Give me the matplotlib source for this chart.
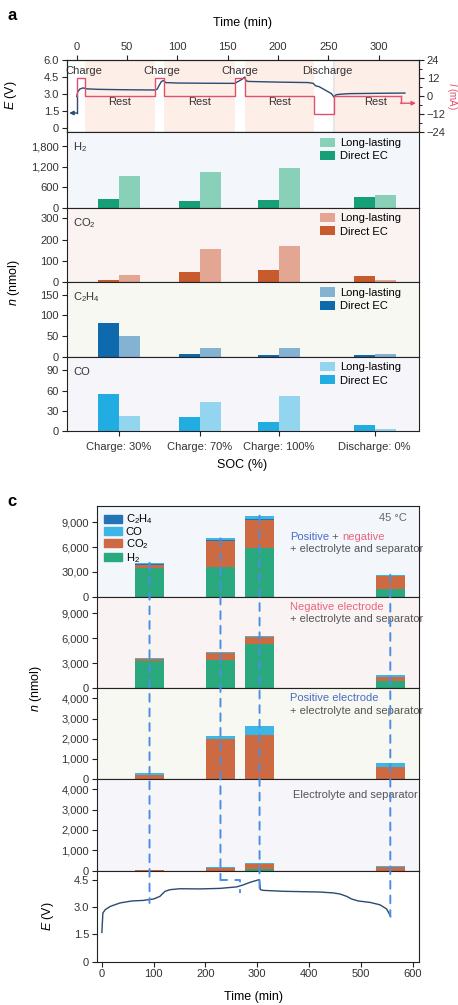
import matplotlib
matplotlib.use('Agg')
import matplotlib.pyplot as plt
from matplotlib.patches import ConnectionPatch, Patch
from matplotlib.ticker import FixedLocator

plt.rcParams.update({
    'font.family': ['Liberation Sans', 'DejaVu Sans'],
    'font.size': 8,
    'mathtext.fontset': 'custom',
    'mathtext.rm': 'Liberation Sans',
    'mathtext.it': 'Liberation Sans:italic',
    'mathtext.default': 'regular',
    'axes.linewidth': 0.8,
    'axes.edgecolor': '#222222',
    'xtick.color': '#222222',
    'ytick.color': '#222222',
    'xtick.labelcolor': '#333333',
    'ytick.labelcolor': '#333333',
})

# ---------------- data: panel a ----------------
time_a = [0, 1, 3, 6, 8, 10, 20, 40, 60, 78, 80, 82, 84, 86, 87, 88, 100, 130, 157,
          160, 164, 166, 167, 168, 170, 200, 230, 235, 237, 241, 246, 250, 253, 255.5,
          257.5, 262, 271, 300, 326]
volt_a = [2.8, 3.2, 3.45, 3.55, 3.52, 3.47, 3.43, 3.4, 3.38, 3.37, 3.45, 3.8, 4.1, 4.2,
          4.15, 4.02, 3.98, 3.96, 3.95, 4.1, 4.3, 4.45, 4.5, 4.2, 4.12, 4.06, 4.02, 3.95,
          3.75, 3.65, 3.4, 3.2, 3.05, 2.75, 2.95, 3.0, 3.05, 3.08, 3.1]
cur_t = [0, 0, 8, 78, 87, 157, 167, 236, 256, 322]
cur_i = [0, 12, 0, 12, 0, 12, 0, -12, 0, 0]
rest_spans = [(8, 78), (87, 157), (167, 236), (257, 340)]
step_labels = ['Charge', 'Charge', 'Charge', 'Discharge']
step_label_t = [7, 84, 162, 249]

soc_labels = ['Charge: 30%', 'Charge: 70%', 'Charge: 100%', 'Discharge: 0%']
soc_pos = [42, 122, 201, 296]
h2_direct = [255, 200, 230, 320]
h2_long = [940, 1055, 1175, 375]
co2_direct = [10, 48, 58, 30]
co2_long = [34, 156, 170, 10]
c2h4_direct = [82, 6.5, 4, 4]
c2h4_long = [50, 21, 21, 6.5]
co_direct = [55, 21, 14, 9]
co_long = [22.5, 43, 52, 3.5]

# ---------------- data: panel c ----------------
bar_t = [92, 229, 304.5, 557]
sample_t = [92, 266, 304.5, 557]
sample_end_E = [3.22, 3.77, 3.77, 2.48]
elbow_E = 4.47
# rows: pos+neg+el, neg+el, pos+el, el
h2_c = [[3510, 3590, 5930, 890], [3320, 3440, 5360, 880], [0, 0, 0, 0], [0, 0, 80, 0]]
co2_c = [[320, 3145, 3390, 1610], [160, 800, 800, 480], [200, 1975, 2175, 575], [10, 135, 250, 165]]
c2h4_c = [[100, 70, 30, 40], [30, 30, 30, 30], [10, 20, 20, 20], [5, 5, 5, 5]]
co_c = [[180, 250, 450, 120], [130, 90, 130, 210], [90, 130, 420, 195], [25, 50, 50, 65]]
ylims_c = [11000, 11000, 4500, 4500]
yticks_c = [[0, 3000, 6000, 9000], [0, 3000, 6000, 9000],
            [0, 1000, 2000, 3000, 4000], [0, 1000, 2000, 3000, 4000]]
yticklabels_c = [['0', '30,00', '6,000', '9,000'], ['0', '3,000', '6,000', '9,000'],
                 ['0', '1,000', '2,000', '3,000', '4,000'], ['0', '1,000', '2,000', '3,000', '4,000']]

time_c = [0, 1.9, 6.4, 16, 35, 58, 80, 100, 112, 122, 132, 151, 190, 228, 260, 273, 286,
          304, 306, 312, 350, 421, 447, 460, 473, 482, 495, 518, 537, 550, 557.6]
volt_c = [1.60, 2.67, 2.85, 3.03, 3.22, 3.33, 3.36, 3.44, 3.58, 3.86, 3.95, 4.0, 3.99,
          4.02, 4.1, 4.21, 4.35, 4.5, 3.95, 3.91, 3.86, 3.82, 3.77, 3.71, 3.58, 3.44,
          3.33, 3.25, 3.12, 2.89, 2.48]

# ---------------- styling ----------------
W, H = 458, 1005
fig = plt.figure(figsize=(W / 100, H / 100), dpi=100)


def add_ax(l, t, r, b):
    return fig.add_axes([l / W, 1 - b / H, (r - l) / W, (b - t) / H])


def style(ax):
    ax.tick_params(direction='out', length=3.5, width=0.8, labelsize=8, pad=2)


RED = '#e0506a'
NAVY = '#2b4a6f'
GRAY = '#333333'

# ---------------- panel a: E / I vs time ----------------
axT = add_ax(66.7, 60, 419, 132.5)
style(axT)
axT.set_xlim(-10, 340)
axT.set_ylim(-0.36, 6.0)
for s, e in rest_spans:
    axT.axvspan(s, e, color='#fdeee8', lw=0, zorder=0)
axT.axvspan(255, 257, color='#e6e6e6', lw=0, zorder=0)
axT.plot(time_a, volt_a, color=NAVY, lw=1.0, zorder=3)
axT.plot([0, 0], [volt_a[0], 1.35], color=NAVY, lw=1.0, zorder=3)
axT.annotate('', xy=(-7.5, 1.35), xytext=(0.4, 1.35),
             arrowprops=dict(arrowstyle='-|>', color=NAVY, lw=1.0, mutation_scale=6,
                             shrinkA=0, shrinkB=0))
axT.xaxis.tick_top()
axT.set_xticks([0, 50, 100, 150, 200, 250, 300])
axT.set_yticks([0, 1.5, 3.0, 4.5, 6.0])
axT.set_yticklabels(['0', '1.5', '3.0', '4.5', '6.0'])
for lab, tt in zip(step_labels, step_label_t):
    axT.text(tt, 5.05, lab, ha='center', va='center', fontsize=8, color=GRAY, zorder=4)
for s, e in rest_spans:
    axT.text((s + e) / 2 - (2 if e == 340 else 0), 2.3, 'Rest', ha='center', va='center',
             fontsize=8, color=GRAY, zorder=4)

axI = axT.twinx()
style(axI)
axI.set_ylim(-24, 24)
axI.set_yticks([-24, -12, 0, 12, 24])
axI.set_yticklabels(['\u221224', '\u221212', '0', '12', '24'])
axI.yaxis.set_minor_locator(FixedLocator([-18, -6, 6, 18]))
axI.tick_params(which='minor', direction='out', length=2, width=0.7)
axI.plot(cur_t, cur_i, drawstyle='steps-post', color=RED, lw=1.0, zorder=3)
axI.plot([322, 322], [0, -4.6], color=RED, lw=1.0)
axI.annotate('', xy=(337, -4.6), xytext=(321.6, -4.6),
             arrowprops=dict(arrowstyle='-|>', color=RED, lw=1.0, mutation_scale=6,
                             shrinkA=0, shrinkB=0))

fig.text(243 / W, 1 - 23 / H, 'Time (min)', ha='center', va='center', fontsize=9)
fig.text(11 / W, 1 - 95 / H, r'$\mathit{E}$ (V)', ha='center', va='center',
         rotation=90, fontsize=9)
fig.text(452 / W, 1 - 96 / H, r'$\mathit{I}$ (mA)', ha='center', va='center',
         rotation=270, fontsize=7, color=RED)
fig.text(12 / W, 1 - 16 / H, 'a', ha='center', va='center', fontsize=12, fontweight='bold')

# ---------------- panel a: bar panels ----------------
bar_rows = [
    ('H$_2$', h2_direct, h2_long, '#17a078', '#88d0b7', '#f3f7fb', 2200,
     [0, 600, 1200, 1800], ['0', '600', '1,200', '1,800']),
    ('CO$_2$', co2_direct, co2_long, '#c85a2d', '#e3a692', '#faf3f2', 350,
     [0, 100, 200, 300], ['0', '100', '200', '300']),
    ('C$_2$H$_4$', c2h4_direct, c2h4_long, '#0f6aad', '#84b2d3', '#f8f8f2', 180,
     [0, 50, 100, 150], ['0', '50', '100', '150']),
    ('CO', co_direct, co_long, '#22ade2', '#93d5ef', '#f5f5fa', 110,
     [0, 30, 60, 90], ['0', '30', '60', '90']),
]
bounds_a = [132.5, 207.7, 282.3, 356.7, 431.3]
bar_w = 20.8
for i, (name, d, lng, cd, cl, bg, ymax, yt, ytl) in enumerate(bar_rows):
    ax = add_ax(66.7, bounds_a[i], 419, bounds_a[i + 1])
    style(ax)
    ax.set_facecolor(bg)
    ax.set_xlim(-10, 340)
    ax.set_ylim(0, ymax)
    ax.bar(soc_pos, lng, width=bar_w, align='edge', color=cl, label='Long-lasting', zorder=2)
    ax.bar(soc_pos, d, width=-bar_w, align='edge', color=cd, label='Direct EC', zorder=2)
    ax.set_yticks(yt)
    ax.set_yticklabels(ytl)
    ax.text(0.019, 0.8, name, transform=ax.transAxes, ha='left', va='center', fontsize=8,
            color=GRAY)
    ax.legend(loc='upper right', bbox_to_anchor=(0.968, 1.02), frameon=False, fontsize=8,
              handlelength=1.3, handleheight=0.9, handletextpad=0.5, labelspacing=0.25,
              borderaxespad=0.2)
    if i < 3:
        ax.set_xticks([])
    else:
        ax.set_xticks(soc_pos)
        ax.set_xticklabels(soc_labels, fontsize=8)
        ax.tick_params(axis='x', pad=4)

fig.text(14 / W, 1 - 282 / H, r'$\mathit{n}$ (nmol)', ha='center', va='center',
         rotation=90, fontsize=9)
fig.text(242.5 / W, 1 - 465 / H, 'SOC (%)', ha='center', va='center', fontsize=9)

# ---------------- panel c ----------------
fig.text(12 / W, 1 - 501 / H, 'c', ha='center', va='center', fontsize=12, fontweight='bold')
bounds_c = [505.7, 596.7, 688.3, 779, 870.5, 961.7]
bgs_c = ['#f3f7fb', '#faf3f3', '#f7f8f1', '#f5f5fa']
C_H2, C_CO2, C_C2H4, C_CO = '#2aa87e', '#cd6a41', '#2474b5', '#3cb6e4'
axes_c = []
for i in range(4):
    ax = add_ax(96.7, bounds_c[i], 419.3, bounds_c[i + 1])
    style(ax)
    ax.set_facecolor(bgs_c[i])
    ax.set_xlim(-10, 613)
    ax.set_ylim(0, ylims_c[i])
    b1 = h2_c[i]
    b2 = [a + b for a, b in zip(b1, co2_c[i])]
    b3 = [a + b for a, b in zip(b2, c2h4_c[i])]
    ax.bar(bar_t, h2_c[i], width=56, color=C_H2, zorder=2)
    ax.bar(bar_t, co2_c[i], bottom=b1, width=56, color=C_CO2, zorder=2)
    ax.bar(bar_t, c2h4_c[i], bottom=b2, width=56, color=C_C2H4, zorder=2)
    ax.bar(bar_t, co_c[i], bottom=b3, width=56, color=C_CO, zorder=2)
    ax.set_xticks([])
    ax.set_yticks(yticks_c[i])
    ax.set_yticklabels(yticklabels_c[i])
    axes_c.append(ax)

BLUE_T = '#4a6cc4'
PINK_T = '#e8667f'
GRAY_T = '#555555'
ax0 = axes_c[0]
ax0.text(0.96, 0.87, '45 \u00b0C', transform=ax0.transAxes, ha='right', va='center',
         fontsize=8, color='#666666')
t1 = ax0.text(0.599, 0.653, 'Positive', transform=ax0.transAxes, ha='left', va='center',
              fontsize=8, color=BLUE_T)
t2 = ax0.annotate(' + ', xy=(1, 0), xycoords=t1, ha='left', va='bottom', fontsize=8,
                  color=GRAY_T)
ax0.annotate('negative', xy=(1, 0), xycoords=t2, ha='left', va='bottom', fontsize=8,
             color=PINK_T)
ax0.text(0.599, 0.52, '+ electrolyte and separator', transform=ax0.transAxes, ha='left',
         va='center', fontsize=8, color=GRAY_T)
ax1 = axes_c[1]
ax1.text(0.599, 0.884, 'Negative electrode', transform=ax1.transAxes, ha='left',
         va='center', fontsize=8, color=PINK_T)
ax1.text(0.599, 0.755, '+ electrolyte and separator', transform=ax1.transAxes, ha='left',
         va='center', fontsize=8, color=GRAY_T)
ax2 = axes_c[2]
ax2.text(0.599, 0.89, 'Positive electrode', transform=ax2.transAxes, ha='left',
         va='center', fontsize=8, color=BLUE_T)
ax2.text(0.599, 0.753, '+ electrolyte and separator', transform=ax2.transAxes, ha='left',
         va='center', fontsize=8, color=GRAY_T)
ax3 = axes_c[3]
ax3.text(0.607, 0.82, 'Electrolyte and separator', transform=ax3.transAxes, ha='left',
         va='center', fontsize=8, color=GRAY_T)

handles = [Patch(color=C_C2H4, label='C$_2$H$_4$'), Patch(color=C_CO, label='CO'),
           Patch(color=C_CO2, label='CO$_2$'), Patch(color=C_H2, label='H$_2$')]
ax0.legend(handles=handles, loc='upper left', bbox_to_anchor=(0.0, 1.01), frameon=False,
           fontsize=8, handlelength=1.6, handleheight=0.75, handletextpad=0.3,
           labelspacing=0.02, borderaxespad=0.3)

axE = add_ax(96.7, bounds_c[4], 419.3, bounds_c[5])
style(axE)
axE.set_xlim(-10, 613)
axE.set_ylim(0, 5.0)
axE.plot(time_c, volt_c, color=NAVY, lw=1.0, zorder=3)
axE.set_xticks([0, 100, 200, 300, 400, 500, 600])
axE.set_yticks([0, 1.5, 3.0, 4.5])
axE.set_yticklabels(['0', '1.5', '3.0', '4.5'])

fig.text(36 / W, 1 - 688 / H, r'$\mathit{n}$ (nmol)', ha='center', va='center',
         rotation=90, fontsize=9)
fig.text(48 / W, 1 - 916 / H, r'$\mathit{E}$ (V)', ha='center', va='center',
         rotation=90, fontsize=9)
fig.text(253 / W, 1 - 996.7 / H, 'Time (min)', ha='center', va='center', fontsize=9)

# dashed sampling lines
DASH = '#4a8fe3'
tops = [h + c + e + o for h, c, e, o in zip(h2_c[0], co2_c[0], c2h4_c[0], co_c[0])]
for bt, st, top, end in zip(bar_t, sample_t, tops, sample_end_E):
    y_end = end if bt == st else elbow_E
    con = ConnectionPatch(xyA=(bt, top), coordsA=ax0.transData, xyB=(bt, y_end),
                          coordsB=axE.transData, color=DASH, lw=1.4,
                          linestyle=(0, (4, 3.5)), zorder=5)
    fig.add_artist(con)
    if bt != st:
        axE.plot([bt, st, st], [elbow_E, elbow_E, end], color=DASH, lw=1.4,
                 linestyle=(0, (4, 3.5)), zorder=5, clip_on=False)

fig.savefig('out.png', dpi=100)
